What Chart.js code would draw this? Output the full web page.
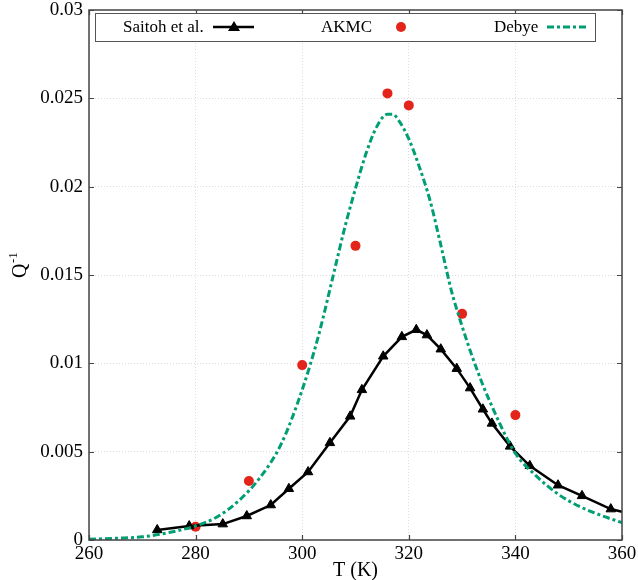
<!DOCTYPE html>
<html>
<head>
<meta charset="utf-8">
<script src="https://cdn.jsdelivr.net/npm/chart.js@4"></script>
<style>
  html, body { margin: 0; padding: 0; background: #fff; }
  #wrap { width: 638px; height: 580px; }
</style>
</head>
<body>
<div id="wrap"><canvas id="qChart" width="638" height="580"></canvas></div>
<script>
// Saitoh et al. (measured)
const saitohT = [272.8, 278.8, 285.1, 289.6, 294.1, 297.5, 301.1, 305.2, 309.0, 311.2, 315.2, 318.7, 321.4, 323.4, 326.0, 329.0, 331.5, 333.9, 335.6, 339.0, 342.7, 348.0, 352.5, 357.9, 360.0];
const saitohQ = [0.00057, 0.00079, 0.0009, 0.00136, 0.00198, 0.0029, 0.00385, 0.0055, 0.0070, 0.0085, 0.0104, 0.0115, 0.0119, 0.0116, 0.0108, 0.0097, 0.0086, 0.0074, 0.0066, 0.0053, 0.0042, 0.0031, 0.0025, 0.00175, 0.0016];
const saitohMarks = 24; // the last point only carries the line to the edge

// AKMC simulation points
const akmcT = [280, 290, 300, 310, 316, 320, 330, 340];
const akmcQ = [0.00075, 0.00334, 0.0099, 0.01665, 0.02528, 0.0246, 0.0128, 0.00707];

// Debye fit
const debyeT = [260, 265, 270, 275, 280, 284, 288, 292, 296, 300, 303, 306, 308, 310, 312, 314, 316, 317, 318, 320, 322, 324, 326, 328, 330, 332, 334, 336, 338, 340, 344, 348, 352, 356, 360];
const debyeQ = [0.00004, 0.0001, 0.00018, 0.00042, 0.0008, 0.0013, 0.0022, 0.0035, 0.0054, 0.0085, 0.0115, 0.0152, 0.0177, 0.0199, 0.0219, 0.0234, 0.0241, 0.0241, 0.0238, 0.0227, 0.0211, 0.0192, 0.0167, 0.0141, 0.0121, 0.0103, 0.0087, 0.0073, 0.0060, 0.0049, 0.0036, 0.0026, 0.0019, 0.0014, 0.00098];

const xTicks = [260, 280, 300, 320, 340, 360];
const yTicks = [0, 0.005, 0.01, 0.015, 0.02, 0.025, 0.03];

const SERIF = '"Liberation Serif", "DejaVu Serif", serif';
const GREEN = '#009e73';
const RED = '#e3241b';
const DASH = [7, 3, 3, 3];

const pts = (xs, ys) => xs.map((x, i) => ({ x, y: ys[i] }));

// frame, inward ticks, axis titles and legend
const decor = {
  id: 'decor',
  afterDatasetsDraw(chart) {
    const { ctx, chartArea: a, scales: { x, y } } = chart;
    ctx.save();
    ctx.strokeStyle = '#444';
    ctx.lineWidth = 1.5;
    ctx.strokeRect(a.left, a.top, a.right - a.left, a.bottom - a.top);
    ctx.lineWidth = 1.2;
    ctx.beginPath();
    xTicks.forEach(t => {
      const px = Math.round(x.getPixelForValue(t)) + 0.5;
      ctx.moveTo(px, a.bottom); ctx.lineTo(px, a.bottom - 5);
      ctx.moveTo(px, a.top); ctx.lineTo(px, a.top + 5);
    });
    yTicks.forEach(t => {
      const py = Math.round(y.getPixelForValue(t)) + 0.5;
      ctx.moveTo(a.left, py); ctx.lineTo(a.left + 5, py);
      ctx.moveTo(a.right, py); ctx.lineTo(a.right - 5, py);
    });
    ctx.stroke();

    // axis titles
    ctx.fillStyle = '#000';
    ctx.font = '20px ' + SERIF;
    ctx.textAlign = 'center';
    ctx.textBaseline = 'alphabetic';
    ctx.fillText('T (K)', (a.left + a.right) / 2, 576);

    ctx.save();
    ctx.translate(26, 270);
    ctx.rotate(-Math.PI / 2);
    ctx.textAlign = 'left';
    ctx.font = '20px ' + SERIF;
    ctx.fillText('Q', -8, 0);
    ctx.font = '13px ' + SERIF;
    ctx.fillText('-1', 7, -9);
    ctx.restore();

    // legend box
    ctx.fillStyle = '#fff';
    ctx.fillRect(95, 13, 500, 28);
    ctx.strokeStyle = '#555';
    ctx.lineWidth = 1;
    ctx.strokeRect(95.5, 13.5, 500, 28);

    ctx.fillStyle = '#000';
    ctx.font = '17px ' + SERIF;
    ctx.textAlign = 'left';
    ctx.textBaseline = 'middle';
    const ly = 27;
    ctx.fillText('Saitoh et al.', 123, ly + 1);
    ctx.fillText('AKMC', 321, ly + 1);
    ctx.fillText('Debye', 494, ly + 1);

    ctx.strokeStyle = '#000';
    ctx.lineWidth = 2.5;
    ctx.beginPath(); ctx.moveTo(213, ly); ctx.lineTo(254, ly); ctx.stroke();
    ctx.fillStyle = '#000';
    ctx.beginPath();
    ctx.moveTo(234, ly - 6); ctx.lineTo(240, ly + 4); ctx.lineTo(228, ly + 4); ctx.closePath();
    ctx.fill();

    ctx.fillStyle = RED;
    ctx.beginPath(); ctx.arc(401, ly, 5, 0, Math.PI * 2); ctx.fill();

    ctx.strokeStyle = GREEN;
    ctx.lineWidth = 3;
    ctx.setLineDash(DASH);
    ctx.beginPath(); ctx.moveTo(547, ly); ctx.lineTo(589, ly); ctx.stroke();
    ctx.restore();
  }
};

new Chart(document.getElementById('qChart'), {
  type: 'line',
  data: {
    datasets: [
      {
        label: 'Saitoh et al.',
        data: pts(saitohT, saitohQ),
        borderColor: '#000',
        backgroundColor: '#000',
        borderWidth: 2.5,
        pointStyle: 'triangle',
        pointRadius: ctx => ctx.dataIndex < saitohMarks ? 5.5 : 0,
        pointBorderWidth: 1,
        tension: 0,
        order: 1
      },
      {
        label: 'AKMC',
        data: pts(akmcT, akmcQ),
        showLine: false,
        borderColor: RED,
        backgroundColor: RED,
        pointRadius: 5,
        pointBorderWidth: 0,
        order: 2
      },
      {
        label: 'Debye',
        data: pts(debyeT, debyeQ),
        borderColor: GREEN,
        borderWidth: 3,
        borderDash: DASH,
        pointRadius: 0,
        cubicInterpolationMode: 'monotone',
        order: 0
      }
    ]
  },
  options: {
    responsive: false,
    animation: false,
    layout: { padding: { top: 10, right: 16, left: 0, bottom: 0 } },
    plugins: { legend: { display: false }, tooltip: { enabled: false } },
    scales: {
      x: {
        type: 'linear',
        min: 260, max: 360,
        afterBuildTicks: s => { s.ticks = xTicks.map(v => ({ value: v })); },
        afterFit: s => { s.height = 40; s.paddingLeft = 0; s.paddingRight = 0; },
        grid: { color: '#ddd', drawTicks: false, lineWidth: 1 },
        border: { display: false, dash: [1, 2] },
        ticks: { color: '#000', font: { family: SERIF, size: 19 }, padding: 3, maxRotation: 0 }
      },
      y: {
        min: 0, max: 0.03,
        afterBuildTicks: s => { s.ticks = yTicks.map(v => ({ value: v })); },
        afterFit: s => { s.width = 89; s.paddingTop = 0; s.paddingBottom = 0; },
        grid: { color: '#ddd', drawTicks: false, lineWidth: 1 },
        border: { display: false, dash: [1, 2] },
        ticks: {
          color: '#000', font: { family: SERIF, size: 19 }, padding: 6,
          callback: v => String(+v.toFixed(3))
        }
      }
    }
  },
  plugins: [decor]
});
</script>
</body>
</html>
